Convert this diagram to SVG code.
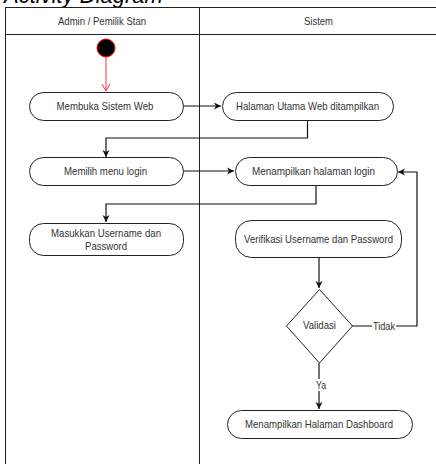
<svg xmlns="http://www.w3.org/2000/svg" width="436" height="464" viewBox="0 0 436 464">
<defs>
<style>
.t{font-family:"Liberation Sans",Arial,sans-serif;font-size:11px;fill:#333;text-anchor:middle;dominant-baseline:central}
.n{fill:#fff;stroke:#222;stroke-width:1}
.c{fill:none;stroke:#111;stroke-width:1.2}
.lane{fill:none;stroke:#222;stroke-width:1}
</style>
<marker id="a" markerWidth="8" markerHeight="8" refX="7" refY="4" orient="auto" markerUnits="userSpaceOnUse">
<path d="M0,0.5 L7,4 L0,7.5 L2,4 Z" fill="#111"/>
</marker>
<marker id="r" markerWidth="10" markerHeight="10" refX="5" refY="8" orient="0" markerUnits="userSpaceOnUse">
<path d="M1,1 L5,8 L9,1" fill="none" stroke="#f33" stroke-width="1"/>
</marker>
</defs>
<rect width="436" height="464" fill="#fff"/>
<text x="4" y="3" font-family="Liberation Sans,Arial,sans-serif" font-size="22" font-style="italic" fill="#000">Activity Diagram</text>
<g id="lanes">
<rect class="lane" x="5.5" y="7.5" width="440" height="470"/>
<line class="lane" x1="5.5" y1="34.5" x2="440" y2="34.5"/>
<line class="lane" x1="199.5" y1="7.5" x2="199.5" y2="470"/>
<text class="t" x="102" y="21" textLength="88" lengthAdjust="spacingAndGlyphs">Admin / Pemilik Stan</text>
<text class="t" x="318.5" y="21" textLength="29" lengthAdjust="spacingAndGlyphs">Sistem</text>
</g>
<g id="connectors">
<line x1="106" y1="57" x2="106" y2="91" stroke="#f33" stroke-width="1" marker-end="url(#r)"/>
<path class="c" d="M183,106 H221" marker-end="url(#a)"/>
<path class="c" d="M307.5,120 V138 H106 V157" marker-end="url(#a)"/>
<path class="c" d="M183,171 H234" marker-end="url(#a)"/>
<path class="c" d="M316,185 V204 H106 V222" marker-end="url(#a)"/>
<path class="c" d="M319,257 V288" marker-end="url(#a)"/>
<path class="c" d="M352,326 H417 V172 H398" marker-end="url(#a)"/>
<path class="c" d="M319,363 V409" marker-end="url(#a)"/>
<rect x="372" y="320" width="24" height="12" fill="#fff"/>
<text class="t" x="384" y="326" textLength="22" lengthAdjust="spacingAndGlyphs">Tidak</text>
<rect x="313" y="379" width="13" height="12" fill="#fff"/>
<text class="t" x="321" y="385" textLength="10" lengthAdjust="spacingAndGlyphs">Ya</text>
</g>
<g id="start"><circle cx="106" cy="48" r="9" fill="#000" stroke="#f00" stroke-width="1"/></g>
<g id="membuka"><rect class="n" x="29.5" y="92.5" width="154" height="28" rx="14"/><text class="t" x="105" y="106" textLength="97" lengthAdjust="spacingAndGlyphs">Membuka Sistem Web</text></g>
<g id="halaman"><rect class="n" x="222.5" y="92.5" width="171" height="28" rx="14"/><text class="t" x="307.5" y="106" textLength="143" lengthAdjust="spacingAndGlyphs">Halaman Utama Web ditampilkan</text></g>
<g id="memilih"><rect class="n" x="29.5" y="157.5" width="154" height="28" rx="14"/><text class="t" x="105.5" y="171" textLength="83" lengthAdjust="spacingAndGlyphs">Memilih menu login</text></g>
<g id="login"><rect class="n" x="235.5" y="157.5" width="162" height="28" rx="14"/><text class="t" x="313.5" y="171" textLength="123" lengthAdjust="spacingAndGlyphs">Menampilkan halaman login</text></g>
<g id="masukkan"><rect class="n" x="29.5" y="223.5" width="154" height="32" rx="14"/><text class="t" x="106" y="233" textLength="110" lengthAdjust="spacingAndGlyphs">Masukkan Username dan</text><text class="t" x="106" y="246" textLength="42" lengthAdjust="spacingAndGlyphs">Password</text></g>
<g id="verifikasi"><rect class="n" x="235.5" y="220.5" width="166" height="37" rx="16"/><text class="t" x="318.5" y="239" textLength="149" lengthAdjust="spacingAndGlyphs">Verifikasi Username dan Password</text></g>
<g id="validasi"><polygon class="n" points="319.5,289.5 352.5,326 319.5,363 286.5,326"/><text class="t" x="319.5" y="325" textLength="33" lengthAdjust="spacingAndGlyphs">Validasi</text></g>
<g id="dashboard"><rect class="n" x="227.5" y="410.5" width="185" height="28" rx="14"/><text class="t" x="319" y="424" textLength="148" lengthAdjust="spacingAndGlyphs">Menampilkan Halaman Dashboard</text></g>
</svg>
